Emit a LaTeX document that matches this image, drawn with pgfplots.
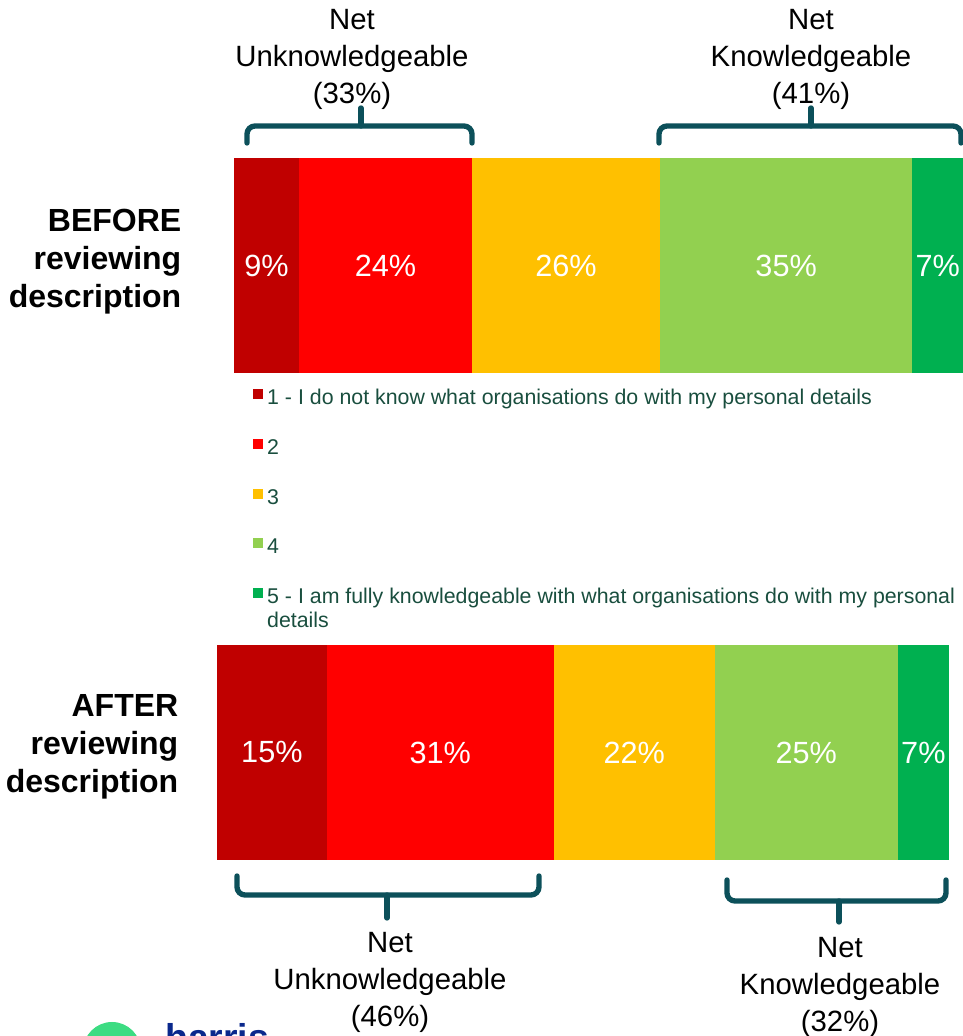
\documentclass[border=0pt]{standalone}
\usepackage{fontspec}
\setmainfont{Liberation Sans}
\usepackage{pgfplots}
\pgfplotsset{compat=1.18}

\definecolor{c1}{RGB}{192,0,0}
\definecolor{c2}{RGB}{255,0,0}
\definecolor{c3}{RGB}{255,192,0}
\definecolor{c4}{RGB}{146,208,80}
\definecolor{c5}{RGB}{0,176,80}
\definecolor{bracecol}{RGB}{12,80,90}
\definecolor{legtext}{RGB}{25,78,62}
\definecolor{harrisblue}{RGB}{10,40,140}
\definecolor{harrisgreen}{RGB}{60,220,130}

\pgfplotsset{
  knowbar/.style={
    xbar stacked,
    scale only axis,
    hide axis,
    ymin=0.5, ymax=1.5,
    bar width=1,
    height=161.25pt,
    ytick=\empty,
  },
  % one segment with its label in the middle
  seg/.style={
    fill=#1, draw=none,
    point meta=explicit symbolic,
    nodes near coords,
    nodes near coords style={anchor=center, text=white,
      inner sep=0pt, font=\fontsize{23}{27}\selectfont},
  },
}

\begin{document}
\begin{tikzpicture}[x=0.75pt, y=0.75pt,
  sidelbl/.style={anchor=east, align=right, font=\fontsize{24}{28.5}\selectfont\bfseries},
  netlbl/.style={align=center, font=\fontsize{22}{27.75}\selectfont},
  brace/.style={draw=bracecol, line width=4pt, rounded corners=6pt, line cap=round},
]
\useasboundingbox (0,0) rectangle (963,1036);

% BEFORE bar
\begin{axis}[knowbar,
  at={(175.5pt,497.25pt)}, anchor=south west,
  width=546.75pt,
  xmin=0, xmax=101,
  legend style={
    draw=none, fill=none,
    at={(0.026,-0.074)}, anchor=north west,
    inner sep=0pt,
    /tikz/row sep=21.5pt,
    /tikz/column sep=3pt,
    font=\fontsize{16}{18}\selectfont,
    text=legtext,
    nodes={inner sep=0pt, text height=11.5pt, text depth=4pt},
  },
  legend cell align=left,
  legend image code/.code={\fill[#1] (0pt,0.5pt) rectangle (7.5pt,8pt);},
]
\addplot[seg=c1] coordinates {(9,1) [9\%]};
\addplot[seg=c2] coordinates {(24,1) [24\%]};
\addplot[seg=c3] coordinates {(26,1) [26\%]};
\addplot[seg=c4] coordinates {(35,1) [35\%]};
\addplot[seg=c5] coordinates {(7,1) [7\%]};
\addlegendentry{1 - I do not know what organisations do with my personal details}
\addlegendentry{2}
\addlegendentry{3}
\addlegendentry{4}
\addlegendentry{\begin{tabular}[t]{@{}l@{}}5 - I am fully knowledgeable with what organisations do with my personal\\details\end{tabular}}
\end{axis}

% AFTER bar
\begin{axis}[knowbar,
  at={(162.75pt,132pt)}, anchor=south west,
  width=549pt,
  xmin=0, xmax=100,
]
\addplot[seg=c1] coordinates {(15,1) [15\%]};
\addplot[seg=c2] coordinates {(31,1) [31\%]};
\addplot[seg=c3] coordinates {(22,1) [22\%]};
\addplot[seg=c4] coordinates {(25,1) [25\%]};
\addplot[seg=c5] coordinates {(7,1) [7\%]};
\end{axis}

% row labels
\node[sidelbl] at (186,774) {BEFORE\\reviewing\\description};
\node[sidelbl] at (183,289) {AFTER\\reviewing\\description};

% braces and net labels
\draw[brace] (247,893) |- (472,910) -- (472,893);
\draw[brace] (361,910) -- (361,928);
\draw[brace] (659,893) |- (961,910) -- (961,893);
\draw[brace] (811,910) -- (811,928);
\draw[brace] (237,160) |- (539,141) -- (539,160);
\draw[brace] (387,141) -- (387,118);
\draw[brace] (727,156) |- (946,135) -- (946,156);
\draw[brace] (839,135) -- (839,114);

\node[netlbl] at (352,977) {Net\\Unknowledgeable\\(33\%)};
\node[netlbl] at (811,977) {Net\\Knowledgeable\\(41\%)};
\node[netlbl] at (390,54) {Net\\Unknowledgeable\\(46\%)};
\node[netlbl] at (840,49) {Net\\Knowledgeable\\(32\%)};

% logo, cut by the page edge
\begin{scope}
\clip (0,0) rectangle (963,1036);
\fill[harrisgreen] (112,-15) circle (29);
\node[anchor=base west, inner sep=0pt, text=harrisblue,
  font=\fontsize{28}{30}\selectfont\bfseries] at (165,-14) {harris};
\end{scope}
\end{tikzpicture}
\end{document}
